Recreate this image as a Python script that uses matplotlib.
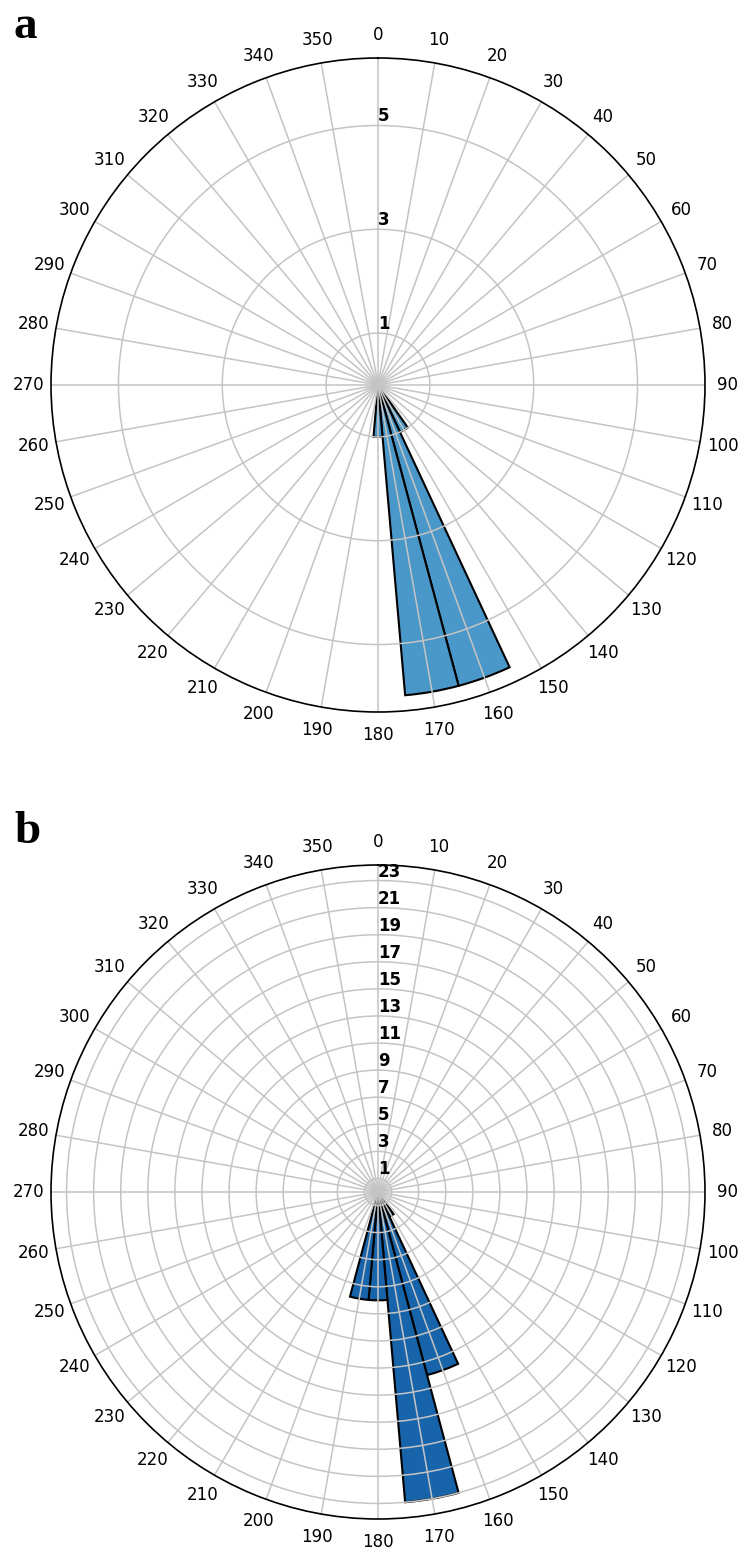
import numpy as np
import matplotlib
matplotlib.use('Agg')
import matplotlib.pyplot as plt

# strike directions (bin centres, degrees) and counts per 10-degree bin
dirs_a = [150, 160, 170, 180]
counts_a = [1, 6, 6, 1]

dirs_b = [150, 160, 170, 180, 190]
counts_b = [2, 14, 23, 8, 8]

color_a = plt.cm.Blues(0.6)
color_b = plt.cm.Blues(0.8)

plt.rcParams['font.family'] = 'DejaVu Sans'
plt.rcParams['axes.edgecolor'] = 'black'

fig = plt.figure(figsize=(7.45, 15.53), dpi=100)

W, H = 745.0, 1553.0
boxes = [(51, 58, 654), (51, 865, 654)]


def rose(ax, dirs, counts, color):
    ax.bar(np.deg2rad(dirs), counts, width=np.deg2rad(10), bottom=0.0,
           color=color, edgecolor='k', linewidth=1.5)
    ax.set_theta_zero_location('N')
    ax.set_theta_direction(-1)
    ax.set_thetagrids(np.arange(0, 360, 10), labels=np.arange(0, 360, 10),
                      fontsize=12)
    ax.set_rgrids(np.arange(1, max(counts) + 1, 2), angle=0, weight='black',
                  fontsize=12)
    ax.grid(True, color='#c4c4c4', linewidth=1.1)
    ax.tick_params(axis='x', pad=6)
    ax.spines['polar'].set_linewidth(1.2)


for (x0, y0, d), dirs, counts, color in zip(boxes, [dirs_a, dirs_b],
                                            [counts_a, counts_b],
                                            [color_a, color_b]):
    ax = fig.add_axes([x0 / W, 1 - (y0 + d) / H, d / W, d / H],
                      projection='polar')
    rose(ax, dirs, counts, color)

fig.text(14 / W, 1 - 38 / H, 'a', fontsize=34, fontweight='bold',
         family='Liberation Serif')
fig.text(14 / W, 1 - 843 / H, 'b', fontsize=34, fontweight='bold',
         family='Liberation Serif')

fig.savefig('out.png', dpi=100)
